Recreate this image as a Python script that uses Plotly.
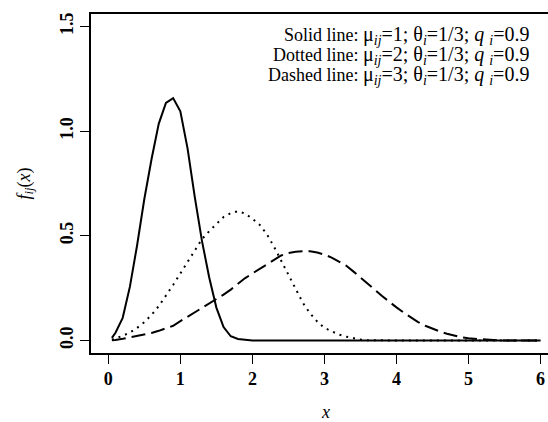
import plotly.graph_objects as go

x_vals = [0.05, 0.1, 0.2, 0.3, 0.4, 0.5, 0.6, 0.7, 0.8, 0.9, 1.0,
          1.1, 1.2, 1.3, 1.4, 1.5, 1.6, 1.7, 1.8, 1.9, 2.0,
          2.1, 2.2, 2.3, 2.4, 2.5, 2.6, 2.7, 2.8, 2.9, 3.0,
          3.1, 3.2, 3.3, 3.4, 3.5, 3.6, 3.7, 3.8, 3.9, 4.0,
          4.1, 4.2, 4.3, 4.4, 4.5, 4.6, 4.7, 4.8, 4.9, 5.0,
          5.1, 5.2, 5.3, 5.4, 5.5, 5.6, 5.7, 5.8, 5.9, 6.0]

solid_mu1 = [0.012, 0.037, 0.108, 0.257, 0.455, 0.676, 0.866, 1.035, 1.135, 1.158, 1.095,
             0.918, 0.686, 0.476, 0.302, 0.157, 0.064, 0.020, 0.007, 0.002, 0.0,
             0, 0, 0, 0, 0, 0, 0, 0, 0, 0,
             0, 0, 0, 0, 0, 0, 0, 0, 0, 0,
             0, 0, 0, 0, 0, 0, 0, 0, 0, 0,
             0, 0, 0, 0, 0, 0, 0, 0, 0, 0]

dotted_mu2 = [0.004, 0.009, 0.022, 0.038, 0.060, 0.087, 0.122, 0.164, 0.212, 0.265, 0.320,
              0.375, 0.432, 0.484, 0.522, 0.556, 0.590, 0.608, 0.617, 0.606, 0.582,
              0.553, 0.508, 0.448, 0.380, 0.315, 0.245, 0.180, 0.130, 0.090, 0.060,
              0.042, 0.028, 0.018, 0.010, 0.004, 0.001, 0, 0, 0, 0,
              0, 0, 0, 0, 0, 0, 0, 0, 0, 0,
              0, 0, 0, 0, 0, 0, 0, 0, 0, 0]

dashed_mu3 = [0.001, 0.002, 0.008, 0.015, 0.021, 0.028, 0.036, 0.046, 0.057, 0.070, 0.092,
              0.113, 0.135, 0.156, 0.176, 0.197, 0.219, 0.243, 0.272, 0.298, 0.320,
              0.342, 0.364, 0.385, 0.406, 0.418, 0.424, 0.426, 0.426, 0.420, 0.410,
              0.396, 0.377, 0.358, 0.330, 0.302, 0.272, 0.242, 0.212, 0.184, 0.158,
              0.133, 0.110, 0.088, 0.070, 0.056, 0.043, 0.032, 0.022, 0.015, 0.010,
              0.007, 0.004, 0.002, 0.001, 0, 0, 0, 0, 0, 0]

x_ticks = [0, 1, 2, 3, 4, 5, 6]
y_ticks = [0.0, 0.5, 1.0, 1.5]
y_tick_text = ["0.0", "0.5", "1.0", "1.5"]

line_names = ["Solid line:", "Dotted line:", "Dashed line:"]
mu_values = ["1", "2", "3"]
theta_value = "1/3"
q_value = "0.9"

FONT = "Liberation Serif"

fig = go.Figure()
fig.add_trace(go.Scatter(x=x_vals, y=solid_mu1, mode="lines",
                         line=dict(color="black", width=2, dash="solid"), showlegend=False))
fig.add_trace(go.Scatter(x=x_vals, y=dotted_mu2, mode="lines",
                         line=dict(color="black", width=2, dash="2px,5px"), showlegend=False))
fig.add_trace(go.Scatter(x=x_vals, y=dashed_mu3, mode="lines",
                         line=dict(color="black", width=2, dash="14px,6px"), showlegend=False))

W, H = 548, 422
ml, mr, mt, mb = 91, 0, 14, 69
px_per_unit = 72.05
x0 = -0.24
x1 = x0 + (W - ml - mr) / px_per_unit

tick_font = dict(family=FONT, size=18, color="black", weight="bold")

fig.update_layout(
    width=W, height=H,
    margin=dict(l=ml, r=mr, t=mt, b=mb, pad=0),
    paper_bgcolor="white", plot_bgcolor="white",
    font=dict(family=FONT, color="black", size=18),
    xaxis=dict(range=[x0, x1], tickmode="array", tickvals=x_ticks,
               ticks="outside", ticklen=9, tickwidth=1.2, tickcolor="black",
               showline=True, linecolor="black", linewidth=1.6, mirror=True,
               showgrid=False, zeroline=False, tickfont=tick_font),
    yaxis=dict(range=[-0.06, 1.56], tickmode="array", tickvals=y_ticks, ticktext=y_tick_text,
               ticks="outside", ticklen=9, tickwidth=1.2, tickcolor="black",
               showline=True, linecolor="black", linewidth=1.6, mirror=False,
               showgrid=False, zeroline=False, tickangle=-90, tickfont=tick_font),
)

line_y = [35, 55, 75]
for name, mu, yp in zip(line_names, mu_values, line_y):
    txt = (f"{name} <span style='font-size:20px'>μ<sub><i>ij</i></sub>={mu}; "
           f"θ<sub><i>i</i></sub>={theta_value}; <i>q</i> <sub><i>i</i></sub>={q_value}</span>")
    fig.add_annotation(xref="paper", yref="paper",
                       x=(531 - ml) / (W - ml - mr), y=1 - (yp - mt) / (H - mt - mb),
                       text=txt, showarrow=False, xanchor="right", yanchor="middle",
                       font=dict(family=FONT, size=18, color="black"))

fig.add_annotation(xref="paper", yref="paper",
                   x=(325 - ml) / (W - ml - mr), y=-(412 - (H - mb)) / (H - mt - mb),
                   text="<i>x</i>", showarrow=False, xanchor="center", yanchor="middle",
                   font=dict(family=FONT, size=18, color="black"))
fig.add_annotation(xref="paper", yref="paper",
                   x=-(ml - 25) / (W - ml - mr), y=0.5,
                   text="<i>f</i><sub><i>ij</i></sub>(<i>x</i>)", showarrow=False, textangle=-90,
                   xanchor="center", yanchor="middle",
                   font=dict(family=FONT, size=18, color="black"))

fig.write_html("out.html", config={"displayModeBar": False},
               post_script="document.body.style.margin='0px';document.body.style.overflow='hidden';")
